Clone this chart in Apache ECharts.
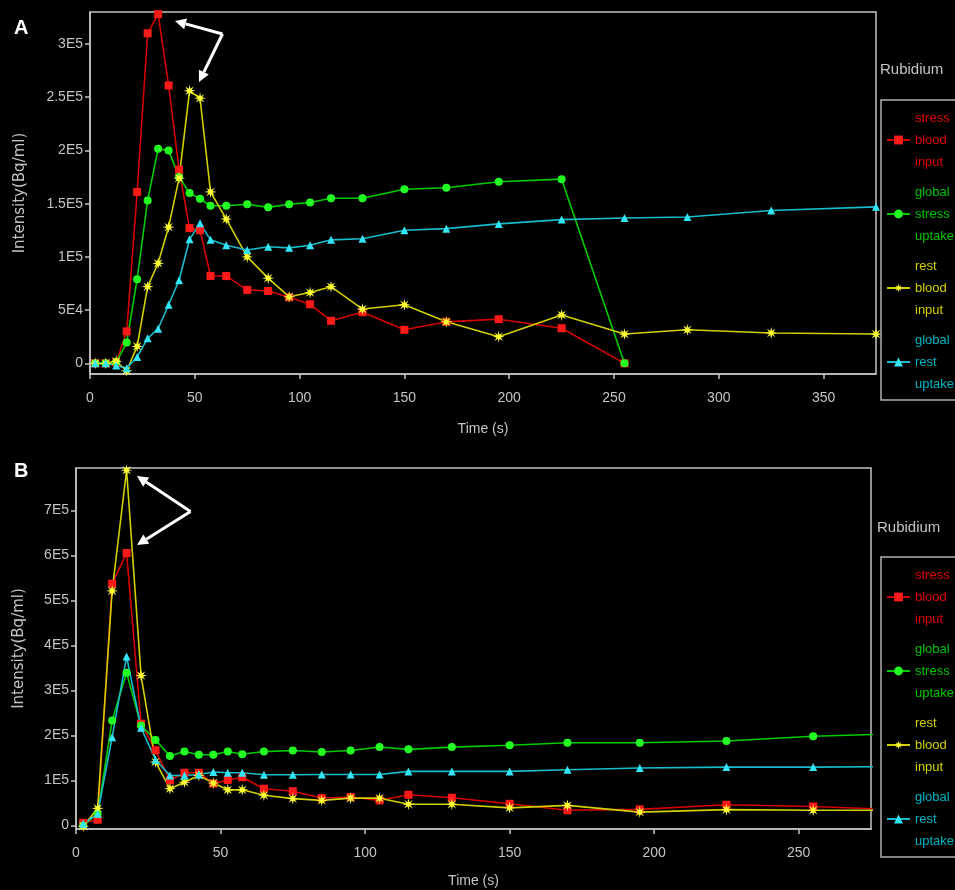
<!DOCTYPE html>
<html><head><meta charset="utf-8">
<script src="https://cdn.jsdelivr.net/npm/echarts@6/dist/echarts.min.js"></script>
<style>html,body{margin:0;padding:0;background:#000;}#c{width:955px;height:890px;}</style>
</head><body><div id="c"></div>
<script>
// ---------- data ----------
const timesA = [2.5,7.5,12.5,17.5,22.5,27.5,32.5,37.5,42.5,47.5,52.5,57.5,65,75,85,95,105,115,130,150,170,195,225,255,285,325,375];
const stressBloodA  = [0,0,1000,30000,161000,310000,328000,261000,182000,127000,125000,82000,82000,69000,68000,62000,55500,40000,48000,31500,39000,41500,33000,0];
const stressUptakeA = [0,0,1000,19500,79000,153000,201500,200000,175000,160000,154500,148000,148000,149500,146500,149500,151000,155000,155000,163500,165000,170500,173000,0];
const restBloodA    = [0,0,2000,-7000,16000,72000,94000,128000,174000,256000,249000,161000,135500,100000,80000,62500,66500,72000,51000,55000,39000,25000,45500,27500,31500,28500,27500];
const restUptakeA   = [0,0,-2000,-4500,6000,23500,32500,55000,78000,116500,131500,116000,111000,106500,109500,108500,111000,116000,117000,125000,126500,131000,135000,136500,137500,143500,147000];

const timesB = [2.5,7.5,12.5,17.5,22.5,27.5,32.5,37.5,42.5,47.5,52.5,57.5,65,75,85,95,105,115,130,150,170,195,225,255,285];
const stressBloodB  = [6000,12500,537000,605000,226000,167000,100000,117000,117000,93000,101000,107000,81500,76000,61000,63000,55500,68000,61500,48000,33500,35500,46000,42000,34500];
const stressUptakeB = [0,26000,233000,339000,222000,190000,154000,164000,157000,157000,164000,158000,164000,166500,163000,166500,174000,169000,174000,178000,183500,183500,187500,198000,203500];
const restBloodB    = [-2000,38000,521000,789000,333000,141000,81500,96000,111000,94000,79000,79000,67000,59500,55500,60500,60500,47000,47000,39000,44500,29500,35000,33500,33500];
const restUptakeB   = [3500,26000,196000,375000,217000,146000,111000,111000,113000,118500,117000,117000,112500,112500,113000,113000,113000,120000,120000,120000,123500,127500,129500,129500,130700];

const seriesNames = ['stress blood input','global stress uptake','rest blood input','global rest uptake'];
const panelLabels = ['A','B'];
const legendTitle = 'Rubidium';
const xAxisName = 'Time (s)';
const yAxisName = 'Intensity(Bq/ml)';

// ---------- styles ----------
const FONT = 'Liberation Sans, Arial, sans-serif';
const lineColors   = ['#d40000','#00cc00','#d0d000','#18bccc'];
const markerColors = ['#ff1a1a','#22ff22','#ffff33','#33e6f5'];
const legendColors = ['#e00000','#00c400','#d0d000','#00b4c4'];
const GRAY = '#c4c4c4';

function starPath(n, R, r) {
  let d = '';
  for (let i = 0; i < 2 * n; i++) {
    const a = i * Math.PI / n - Math.PI / 2;
    const rad = i % 2 ? r : R;
    d += (i ? 'L' : 'M') + (R + rad * Math.cos(a)).toFixed(2) + ' ' + (R + rad * Math.sin(a)).toFixed(2);
  }
  return 'path://' + d + 'Z';
}
const symbols = ['rect', 'circle', starPath(8, 10, 3.8), 'triangle'];
const symbolSizes = [8, 8, 12, 8];

function fmtE(v) {
  if (v === 0) return '0';
  if (v < 0) return '';
  const e = Math.floor(Math.log10(v) + 1e-9);
  const m = Math.round(v / Math.pow(10, e) * 100) / 100;
  return m + 'E' + e;
}

function mkSeries(idx, times, vals, panel) {
  return {
    type: 'line', name: seriesNames[idx],
    xAxisIndex: panel, yAxisIndex: panel,
    data: vals.map((v, i) => [times[i], v]),
    symbol: symbols[idx], symbolSize: symbolSizes[idx],
    showAllSymbol: true,
    lineStyle: { color: lineColors[idx], width: 1.6 },
    itemStyle: { color: markerColors[idx] },
    emphasis: { disabled: true },
    animation: false, clip: true
  };
}

const grids = [
  { left: 90, top: 12, width: 786, height: 362 },
  { left: 76, top: 468, width: 795, height: 361 }
];

function xAx(i, max, gap, margin) {
  return {
    type: 'value', gridIndex: i, min: 0, max: max, interval: 50,
    name: xAxisName, nameLocation: 'middle', nameGap: gap,
    nameTextStyle: { color: GRAY, fontSize: 14, fontFamily: FONT },
    axisLine: { show: true, onZero: false, lineStyle: { color: GRAY, width: 1.5 } },
    axisTick: { show: true, length: 5, lineStyle: { color: GRAY, width: 1.5 } },
    axisLabel: { color: GRAY, fontSize: 14, fontFamily: FONT, margin: margin, showMaxLabel: false },
    splitLine: { show: false }
  };
}
function yAx(i, min, max, gap) {
  return {
    type: 'value', gridIndex: i, min: min, max: max, splitNumber: 6,
    name: yAxisName, nameLocation: 'middle', nameGap: gap,
    nameTextStyle: { color: GRAY, fontSize: 15, fontFamily: 'DejaVu Sans, sans-serif' },
    axisLine: { show: true, onZero: false, lineStyle: { color: GRAY, width: 1.5 } },
    axisTick: { show: true, length: 5, lineStyle: { color: GRAY, width: 1.5 } },
    axisLabel: { color: GRAY, fontSize: 14, fontFamily: FONT, margin: 7, formatter: fmtE, showMinLabel: false, showMaxLabel: false },
    splitLine: { show: false }
  };
}

function mkLegend(top) {
  return {
    orient: 'vertical', left: 881, top: top,
    data: seriesNames.map((n, i) => ({ name: n, textStyle: { color: legendColors[i] } })),
    formatter: n => n.split(' ').join('\n'),
    textStyle: { fontSize: 13, lineHeight: 22, fontFamily: FONT },
    itemWidth: 23, itemHeight: 11, itemGap: 8,
    padding: [7, 60, 5, 5],
    borderColor: '#b0b0b0', borderWidth: 1.5,
    selectedMode: false
  };
}

function arrow(apex, tips) {
  const els = [];
  tips.forEach(t => {
    const dx = t[0] - apex[0], dy = t[1] - apex[1];
    const L = Math.hypot(dx, dy), ux = dx / L, uy = dy / L, px = -uy, py = ux;
    const hl = 11, hw = 5.5;
    const base = [t[0] - hl * ux, t[1] - hl * uy];
    els.push({ type: 'polyline', shape: { points: [apex, base] }, style: { stroke: '#fff', lineWidth: 3, fill: null }, silent: true });
    els.push({ type: 'polygon', shape: { points: [t, [base[0] + hw * px, base[1] + hw * py], [base[0] - hw * px, base[1] - hw * py]] }, style: { fill: '#fff' }, silent: true });
  });
  return els;
}

const chart = echarts.init(document.getElementById('c'), null, { renderer: 'canvas' });
chart.setOption({
  backgroundColor: '#000',
  animation: false,
  title: [
    { text: panelLabels[0], left: 14, top: 18, padding: 0, textStyle: { color: '#fff', fontSize: 20, fontWeight: 'bold', fontFamily: FONT } },
    { text: panelLabels[1], left: 14, top: 461, padding: 0, textStyle: { color: '#fff', fontSize: 20, fontWeight: 'bold', fontFamily: FONT } }
  ],
  grid: grids.map(g => Object.assign({ show: true, borderColor: GRAY, borderWidth: 1.5, backgroundColor: 'transparent', containLabel: false }, g)),
  xAxis: [xAx(0, 375, 48, 17), xAx(1, 275, 45, 17)],
  yAxis: [yAx(0, -10000, 330000, 62), yAx(1, -8000, 794000, 49)],
  legend: [mkLegend(100), mkLegend(557)],
  graphic: [
    { type: 'text', left: 880, top: 62, style: { text: legendTitle, fill: GRAY, fontSize: 15, fontFamily: FONT }, silent: true },
    { type: 'text', left: 877, top: 520, style: { text: legendTitle, fill: GRAY, fontSize: 15, fontFamily: FONT }, silent: true },
    ...arrow([222.5, 34], [[175, 21], [199, 82]]),
    ...arrow([190.5, 511.5], [[137, 476], [137, 545]])
  ],
  series: [
    mkSeries(0, timesA, stressBloodA, 0),
    mkSeries(1, timesA, stressUptakeA, 0),
    mkSeries(2, timesA, restBloodA, 0),
    mkSeries(3, timesA, restUptakeA, 0),
    mkSeries(0, timesB, stressBloodB, 1),
    mkSeries(1, timesB, stressUptakeB, 1),
    mkSeries(2, timesB, restBloodB, 1),
    mkSeries(3, timesB, restUptakeB, 1)
  ]
});
</script></body></html>
